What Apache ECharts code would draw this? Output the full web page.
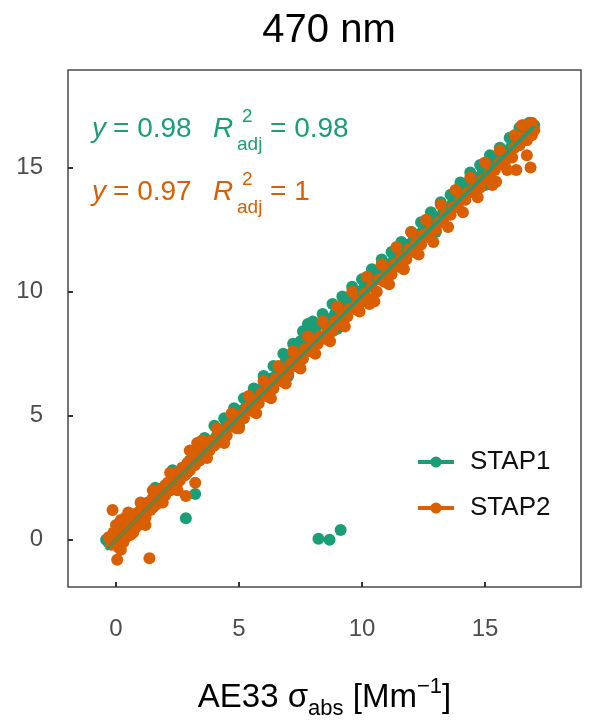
<!DOCTYPE html>
<html>
<head>
<meta charset="utf-8">
<script src="https://cdn.jsdelivr.net/npm/echarts@6/dist/echarts.min.js"></script>
<style>html,body{margin:0;padding:0;background:#fff}#c{width:589px;height:726px}</style>
</head>
<body>
<div id="c"></div>
<script>
// ---- data ----
const titleText = '470 nm';
const seriesNames = ['STAP1', 'STAP2'];
const tickValues = [0, 5, 10, 15];
const stap1Points = [
[-0.4,0.0],[-0.3,-0.1],[-0.2,0.1],[0.0,0.2],[0.1,0.4],[0.2,0.0],[0.3,0.5],[0.4,0.3],[0.5,0.7],[0.6,0.4],
[0.8,0.9],[0.9,0.6],[1.0,1.2],[1.2,1.0],[1.3,1.5],[1.5,1.3],[1.7,1.9],[1.8,1.6],[2.0,2.2],[2.2,2.0],
[2.4,2.6],[2.5,2.3],[2.7,2.9],[2.84,0.87],[2.9,2.7],[3.0,3.2],[3.2,3.5],[3.22,1.85],[3.3,3.2],[3.5,3.7],
[3.7,3.6],[3.9,4.0],[4.1,4.2],[4.3,4.3],[4.5,4.7],[4.7,4.6],[4.9,5.0],[5.1,5.2],[5.3,5.4],[5.5,5.6],
[5.7,5.8],[5.9,6.1],[6.1,6.2],[6.3,6.5],[6.5,6.6],[6.7,6.9],[6.9,7.2],[7.1,7.4],[7.3,7.6],[7.5,8.0],
[7.7,8.0],[7.9,8.3],[8.1,8.5],[8.23,0.04],[8.3,8.7],[8.5,8.8],[8.68,0.0],[8.7,8.9],[8.9,9.1],[9.1,9.3],
[9.13,0.4],[9.3,9.4],[9.5,9.6],[9.7,9.8],[9.9,10.0],[10.1,10.2],[10.3,10.4],[10.5,10.6],[10.7,10.8],[10.9,11.0],
[11.1,11.1],[11.3,11.3],[11.5,11.5],[11.7,11.7],[11.9,11.9],[12.1,12.1],[12.3,12.3],[12.5,12.5],[12.7,12.7],[12.9,12.9],
[13.1,13.0],[13.3,13.2],[13.5,13.4],[13.7,13.6],[13.9,13.8],[14.1,14.0],[14.3,14.2],[14.5,14.4],[14.7,14.6],[14.9,14.8],
[15.1,15.0],[15.3,15.2],[15.5,15.3],[15.7,15.5],[15.9,15.7],[16.1,15.9],[16.3,16.0],[16.5,16.3],[16.7,16.5],[16.9,16.6],[17.0,16.7],
[0.5,1.0],[1.1,0.7],[1.6,2.1],[2.3,2.8],[3.4,3.9],[3.6,4.1],[4.0,4.6],[4.4,4.9],[4.8,5.3],[5.2,5.7],
[5.6,6.1],[6.0,6.6],[6.4,7.0],[6.8,7.5],[7.2,7.9],[7.6,8.4],[7.8,8.7],[8.0,8.8],[8.4,9.1],[8.8,9.5],
[9.2,9.8],[9.6,10.2],[10.0,10.5],[10.4,10.9],[10.8,11.3],[11.2,11.6],[11.6,12.0],[12.0,12.4],[12.4,12.8],[12.8,13.2],
[13.2,13.6],[13.6,13.9],[14.0,14.4],[14.4,14.8],[14.8,15.1],[15.2,15.5],[15.6,15.8],[16.0,16.2],[16.4,16.6],[16.8,16.8],
[5.0,4.6],[7.0,6.6],[9.0,8.5],[11.0,10.5],[13.0,12.4],[15.0,14.3]
];
const stap2Points = [
[-0.3,0.1],[-0.2,-0.2],[-0.1,0.3],[-0.14,1.2],[0.0,0.0],[0.05,-0.8],[0.1,0.5],[0.1,-0.3],[0.2,0.2],[0.2,0.8],
[0.3,-0.1],[0.3,0.4],[0.4,0.9],[0.4,0.1],[0.5,0.5],[0.6,0.2],[0.6,0.8],[0.7,1.0],[0.8,0.5],[0.9,1.1],
[1.0,0.8],[1.1,1.3],[1.2,0.9],[1.36,-0.74],[1.3,1.5],[1.4,1.2],[1.5,1.7],[1.6,1.4],[1.7,1.9],[1.8,1.5],
[1.9,2.1],[2.0,1.8],[2.1,2.3],[2.2,2.0],[2.3,2.5],[2.4,2.1],[2.5,2.7],[2.6,2.4],[2.7,2.9],[2.84,1.77],
[2.8,2.6],[2.9,3.1],[3.0,2.8],[3.1,3.3],[3.2,3.0],[3.22,2.3],[3.3,3.5],[3.4,3.2],[3.5,3.6],[3.6,3.4],
[3.7,3.8],[3.8,3.6],[3.9,4.0],[4.0,3.8],[4.2,4.2],[4.3,4.0],[4.4,4.4],[4.5,4.2],[4.6,4.6],[4.8,4.7],
[4.9,4.5],[5.0,5.0],[5.2,4.9],[5.3,5.3],[5.5,5.2],[5.6,5.6],[5.8,5.5],[5.9,5.9],[6.1,5.8],[6.2,6.2],
[6.4,6.1],[6.5,6.5],[6.7,6.4],[6.8,6.8],[7.0,6.7],[7.1,7.1],[7.3,7.0],[7.4,7.4],[7.6,7.3],[7.7,7.7],
[7.9,7.6],[8.0,8.0],[8.2,7.9],[8.3,8.2],[8.5,8.1],[8.6,8.5],[8.8,8.4],[8.9,8.8],[9.1,8.7],[9.2,9.1],
[9.4,9.0],[9.5,9.3],[9.7,9.3],[9.8,9.6],[10.0,9.6],[10.1,9.9],[10.3,9.7],[10.4,10.2],[10.6,10.0],[10.7,10.5],
[10.9,10.4],[11.0,10.8],[11.2,10.7],[11.3,11.1],[11.5,11.0],[11.6,11.4],[11.8,11.3],[11.9,11.7],[12.1,11.6],[12.2,12.0],
[12.4,11.9],[12.5,12.3],[12.7,12.2],[12.8,12.5],[13.0,12.5],[13.1,12.8],[13.3,12.8],[13.4,13.1],[13.6,13.1],[13.7,13.4],
[13.9,13.4],[14.0,13.7],[14.2,13.7],[14.3,14.0],[14.5,14.0],[14.6,14.3],[14.8,14.2],[14.9,14.5],[15.1,14.6],[15.2,14.8],
[15.45,14.43],[15.4,14.9],[15.6,15.2],[15.8,15.1],[15.9,15.5],[16.1,15.4],[16.27,14.9],[16.2,15.8],[16.4,15.9],[16.5,16.2],
[16.7,16.1],[16.85,15.0],[16.8,16.6],[16.9,16.3],[17.0,16.5],[16.6,16.7],
[0.0,0.6],[0.2,-0.4],[0.5,1.1],[0.7,0.3],[1.0,1.5],[1.2,0.6],[1.5,2.0],[1.9,1.5],[2.2,2.7],[2.5,2.0],
[3.0,3.6],[3.3,3.9],[3.5,4.0],[3.7,3.3],[4.1,4.5],[4.4,3.9],[4.7,5.1],[5.0,4.5],[5.4,5.8],[5.7,5.1],
[6.0,6.4],[6.3,5.7],[6.6,7.0],[6.9,6.3],[7.2,7.6],[7.5,6.9],[7.8,8.2],[8.1,7.5],[8.4,8.8],[8.7,8.0],
[9.0,9.4],[9.3,8.6],[9.6,10.0],[9.9,9.2],[10.2,10.6],[10.3,9.5],[10.5,9.6],[10.8,11.1],[11.1,10.3],[11.4,11.8],
[11.7,10.9],[12.0,12.4],[12.3,11.5],[12.6,12.9],[12.9,12.0],[13.2,13.5],[13.5,12.6],[13.8,14.1],[14.1,13.2],[14.4,14.6],
[14.7,13.8],[15.0,15.2],[15.3,14.3],[15.6,15.7],[15.9,14.9],[16.2,16.3],[16.5,16.7],[16.7,15.5],[16.9,16.8]
];
const stap1Fit = [[-0.4, -0.392], [17.0, 16.66]];
const stap2Fit = [[-0.3, -0.291], [17.0, 16.49]];
const annot1 = { slope: '0.98', r2: '0.98' };
const annot2 = { slope: '0.97', r2: '1' };

// ---- style ----
const GREEN = '#1B9E77';
const ORANGE = '#D95F02';
const FONT = 'Liberation Sans, Arial, sans-serif';

const chart = echarts.init(document.getElementById('c'), null, { renderer: 'canvas' });

function annotLine(color, cy, a) {
  const fs = 28, small = 19;
  return [
    { type: 'text', left: 92, top: cy - 17, style: { text: 'y', font: 'italic ' + fs + 'px ' + FONT, fill: color } },
    { type: 'text', left: 113, top: cy - 17, style: { text: '= ' + a.slope, font: fs + 'px ' + FONT, fill: color } },
    { type: 'text', left: 213, top: cy - 17, style: { text: 'R', font: 'italic ' + fs + 'px ' + FONT, fill: color } },
    { type: 'text', left: 242, top: cy - 25, style: { text: '2', font: small + 'px ' + FONT, fill: color } },
    { type: 'text', left: 237, top: cy + 3, style: { text: 'adj', font: small + 'px ' + FONT, fill: color } },
    { type: 'text', left: 270, top: cy - 17, style: { text: '= ' + a.r2, font: fs + 'px ' + FONT, fill: color } }
  ];
}

const option = {
  backgroundColor: '#fff',
  animation: false,
  title: {
    text: titleText, left: 324, top: 6, textAlign: 'center',
    textStyle: { fontSize: 40, fontWeight: 'normal', color: '#000', fontFamily: FONT }
  },
  grid: { left: 68, right: 8, top: 70, bottom: 139, show: true, borderColor: '#4a4a4a', borderWidth: 1.5, backgroundColor: 'transparent' },
  legend: {
    data: seriesNames, orient: 'vertical', left: 411, top: 444, itemWidth: 36, itemHeight: 14, itemGap: 20,
    textStyle: { fontSize: 26, color: '#111', fontFamily: FONT, padding: [0, 0, 0, 11] },
    lineStyle: { width: 4 }
  },
  xAxis: {
    type: 'value', min: -1.95, max: 18.9,
    splitLine: { show: false }, axisLine: { show: false, onZero: false },
    axisTick: { show: true, inside: true, length: 5, customValues: tickValues, lineStyle: { color: '#333', width: 2 } },
    axisLabel: { customValues: tickValues, fontSize: 24, color: '#4d4d4d', margin: 30, fontFamily: FONT },
    name: '{a|AE33 σ}{sub|abs}{a| [Mm}{sup|−1}{a|]}', nameLocation: 'middle', nameGap: 89,
    nameTextStyle: {
      rich: {
        a: { fontSize: 33, fontFamily: FONT, color: '#000', lineHeight: 44, verticalAlign: 'middle' },
        sub: { fontSize: 22, fontFamily: FONT, color: '#000', lineHeight: 22, verticalAlign: 'bottom' },
        sup: { fontSize: 22, fontFamily: FONT, color: '#000', lineHeight: 22, verticalAlign: 'top' }
      }
    }
  },
  yAxis: {
    type: 'value', min: -1.9, max: 18.93,
    splitLine: { show: false }, axisLine: { show: false, onZero: false },
    axisTick: { show: true, inside: true, length: 5, customValues: tickValues, lineStyle: { color: '#333', width: 2 } },
    axisLabel: { customValues: tickValues, fontSize: 24, color: '#4d4d4d', margin: 25, fontFamily: FONT }
  },
  graphic: [].concat(annotLine(GREEN, 132, annot1), annotLine(ORANGE, 195, annot2)),
  series: [
    { name: 'STAP1 points', type: 'scatter', data: stap1Points, symbolSize: 12, itemStyle: { color: GREEN, opacity: 1 }, z: 2 },
    { name: 'STAP2 points', type: 'scatter', data: stap2Points, symbolSize: 12, itemStyle: { color: ORANGE, opacity: 1 }, z: 3 },
    { name: 'STAP1', type: 'line', data: stap1Fit, symbol: 'circle', symbolSize: 10, showSymbol: false,
      lineStyle: { color: GREEN, width: 3.5 }, itemStyle: { color: GREEN }, z: 4 },
    { name: 'STAP2', type: 'line', data: stap2Fit, symbol: 'circle', symbolSize: 10, showSymbol: false,
      lineStyle: { color: ORANGE, width: 1.5 }, itemStyle: { color: ORANGE }, z: 5 }
  ]
};
chart.setOption(option);
</script>
</body>
</html>
